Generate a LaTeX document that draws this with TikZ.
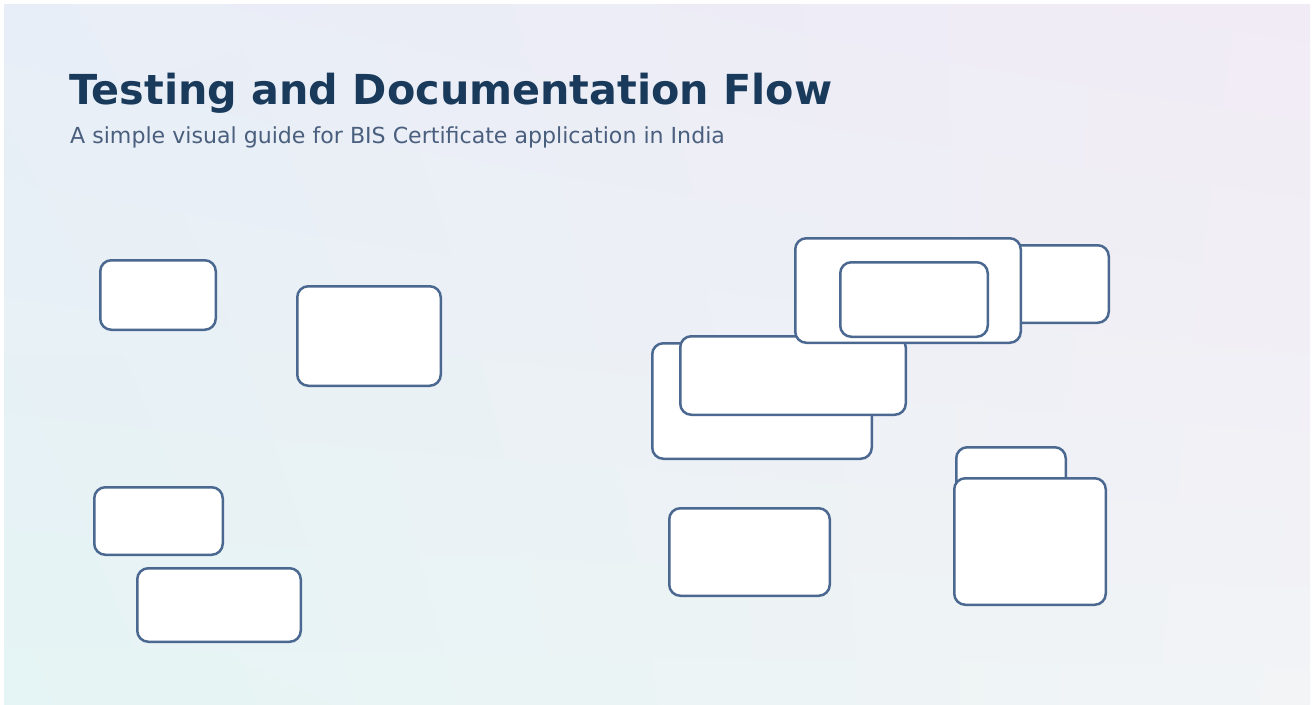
\documentclass[tikz,border=0pt]{standalone}
\usepackage{fontspec}
\setmainfont{DejaVu Sans}
\usetikzlibrary{shadings}
\definecolor{titlecol}{HTML}{1A3A5C}
\definecolor{subcol}{HTML}{4A5F7E}
\definecolor{boxline}{HTML}{4A6890}
\definecolor{bgTL}{HTML}{E8EEF7}
\definecolor{bgTR}{HTML}{F1EBF5}
\definecolor{bgBL}{HTML}{E5F4F4}
\definecolor{bgBR}{HTML}{F2F4F6}
\tikzset{
  card/.style={draw=boxline, line width=2.5pt, fill=white, rounded corners=11pt,
    inner sep=0pt, outer sep=0pt, rectangle},
}
\begin{document}
\begin{tikzpicture}[x=1pt,y=-1pt]
\useasboundingbox (0,0) rectangle (1314,704);
\fill[white] (0,0) rectangle (1314,704);
\shade[upper left=bgTL, upper right=bgTR, lower left=bgBL, lower right=bgBR]
  (4,4) rectangle (1310,704);
\node[anchor=base west, inner sep=0pt, text=titlecol, font=\bfseries\fontsize{41.3}{48}\selectfont] (title) at (69,104) {Testing and Documentation Flow};
\node[anchor=base west, inner sep=0pt, text=subcol, font=\fontsize{22.1}{26}\selectfont] (sub) at (70,143) {A simple visual guide for BIS Certificate application in India};
\node[card, minimum width=115.5pt, minimum height=69.5pt] (b1) at (158,295) {};
\node[card, minimum width=143.5pt, minimum height=99.5pt] (b2) at (369,336) {};
\node[card, minimum width=128.5pt, minimum height=67.5pt] (b3) at (158.5,521) {};
\node[card, minimum width=163.5pt, minimum height=73.5pt] (b4) at (219,605) {};
\node[card, minimum width=219.5pt, minimum height=115.5pt] (b5) at (762,401) {};
\node[card, minimum width=225.5pt, minimum height=78.5pt] (b6) at (793,375.5) {};
\node[card, minimum width=207.5pt, minimum height=77.5pt] (b8) at (1005,284) {};
\node[card, minimum width=225.5pt, minimum height=104.5pt] (b7) at (908,290.5) {};
\node[card, minimum width=147.5pt, minimum height=74.5pt] (b9) at (914,299.5) {};
\node[card, minimum width=109.5pt, minimum height=71.5pt] (b11) at (1011,483) {};
\node[card, minimum width=151.5pt, minimum height=126.5pt] (b12) at (1030,541.5) {};
\node[card, minimum width=160.5pt, minimum height=87.5pt] (b10) at (749.5,552) {};
\end{tikzpicture}
\end{document}
